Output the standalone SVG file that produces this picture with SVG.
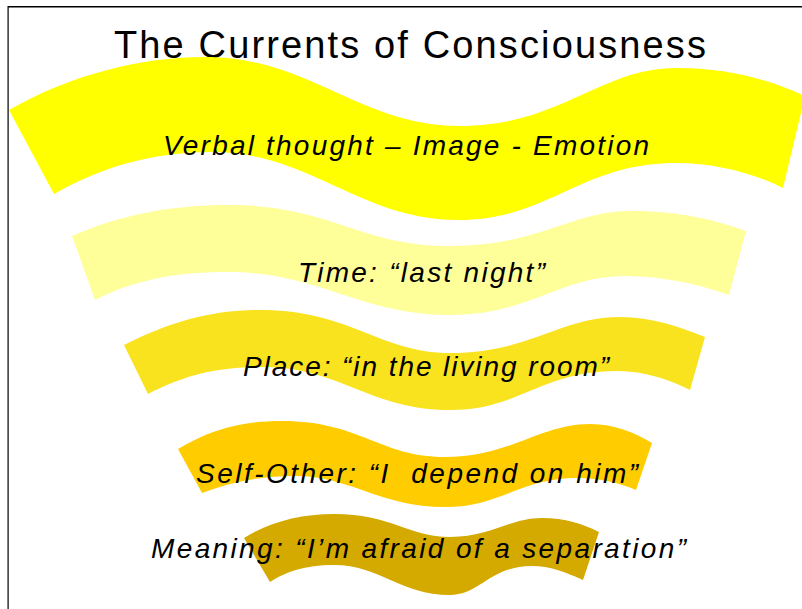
<svg xmlns="http://www.w3.org/2000/svg" width="802" height="609" viewBox="0 0 802 609">
  <style>
    .title { font-family: "Liberation Sans", Arial, sans-serif; font-size: 38px; fill: #000; }
    .label { font-family: "Liberation Sans", Arial, sans-serif; font-size: 28px; font-style: italic; fill: #000; }
    .frame { fill: #000; }
  </style>
  <rect width="802" height="609" fill="#ffffff"/>
  <rect class="frame" x="8" y="6" width="794" height="1.5"/>
  <rect class="frame" x="7.5" y="6" width="1.2" height="603"/>

  <text class="title" x="114" y="58" textLength="592" lengthAdjust="spacing">The Currents of Consciousness</text>

  <g id="band-verbal">
    <path fill="#FFFF00" d="M9,110 C70,75 140,57 205,57 C310,57 360,126 460,126 C560,126 600,68 676,68 C730,68 770,80 805,96 L783,188 C760,176 720,163 676,163 C580,163 550,220 458,220 C360,220 310,152 212,152 C150,152 100,168 54,194 Z"/>
    <text class="label" x="163" y="155" textLength="486" lengthAdjust="spacing">Verbal thought – Image - Emotion</text>
  </g>

  <g id="band-time">
    <path fill="#FFFF99" d="M72,236 C120,215 170,205 229,205 C330,205 360,246 450,246 C540,246 570,211 632,211 C680,211 715,220 746,231 L729,295 C700,285 665,276 625,276 C560,276 530,315 450,315 C360,315 320,272 228,272 C170,272 130,282 95,300 Z"/>
    <text class="label" x="298" y="282" textLength="247" lengthAdjust="spacing">Time: “last night”</text>
  </g>

  <g id="band-place">
    <path fill="#F9E21E" d="M124,345 C170,322 210,310 260,310 C350,310 380,353 450,353 C530,353 560,317 620,317 C652,317 680,327 705,337 L690,390 C670,380 645,371 618,371 C540,371 520,410 450,410 C370,410 340,367 262,367 C210,367 180,378 148,394 Z"/>
    <text class="label" x="243" y="376" textLength="366" lengthAdjust="spacing">Place: “in the living room”</text>
  </g>

  <g id="band-self-other">
    <path fill="#FFCC00" d="M178,449 C210,430 240,421 282,421 C360,421 380,457 445,457 C510,457 540,424 590,424 C615,424 635,433 652,443 L636,490 C620,483 600,478 578,478 C520,478 500,507 445,507 C380,507 350,476 295,476 C260,476 230,482 202,493 Z"/>
    <text class="label" x="196" y="483" textLength="442" lengthAdjust="spacing" style="white-space:pre">Self-Other: “I  depend on him”</text>
  </g>

  <g id="band-meaning">
    <path fill="#D4AA00" d="M244,538 C270,522 300,514 334,514 C390,514 410,537 450,537 C490,537 510,518 542,518 C565,518 583,524 599,532 L583,580 C565,572 550,566 532,566 C490,566 480,595 450,595 C400,595 380,565 334,565 C305,565 285,572 270,582 Z"/>
    <text class="label" x="151" y="558" textLength="535" lengthAdjust="spacing">Meaning: “I’m afraid of a separation”</text>
  </g>
</svg>
